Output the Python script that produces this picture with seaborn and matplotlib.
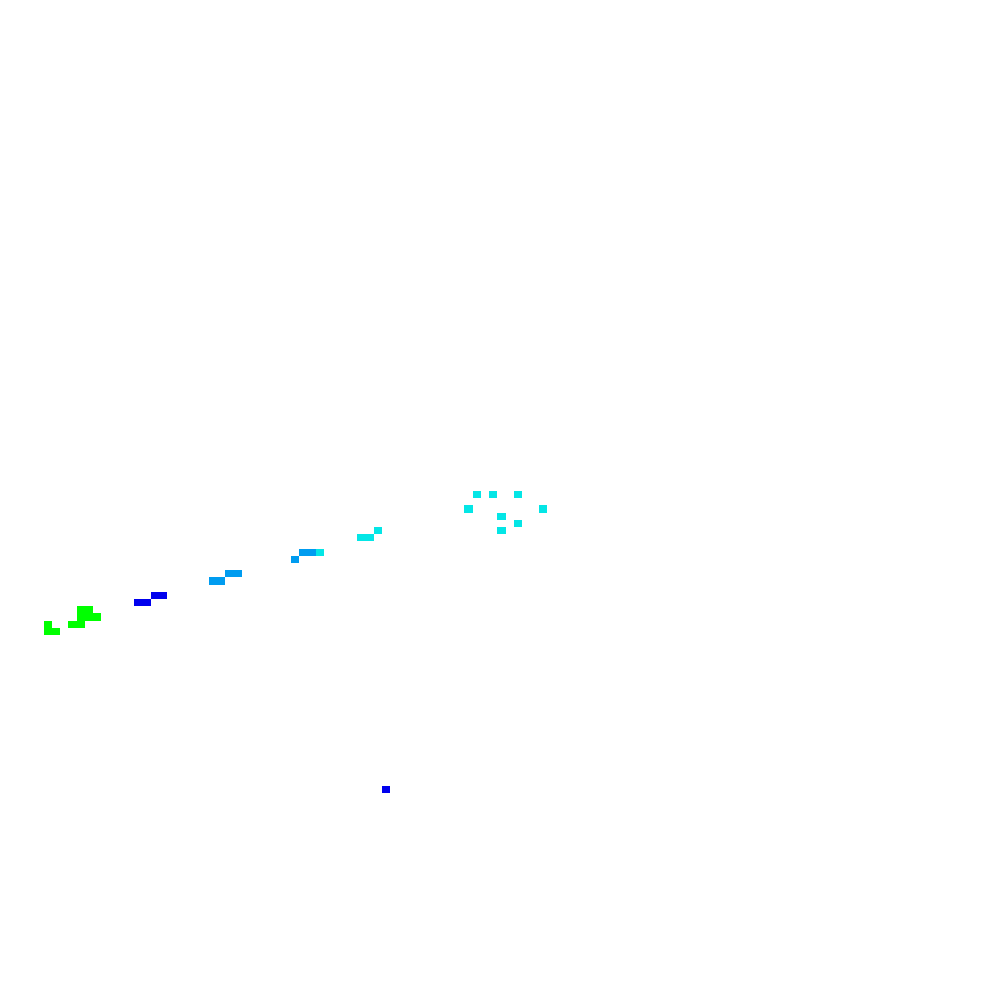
import numpy as np
import pandas as pd
import matplotlib
matplotlib.use("Agg")
import matplotlib.pyplot as plt
from matplotlib.colors import ListedColormap
import seaborn as sns

# Grid size of the heatmap
n_cols = 120
n_rows = 138

# Occupied cells (column index, row index) and their level (0=green, 1=cyan, 2=light blue, 3=blue)
cell_cols = [5, 5, 6, 8, 9, 9, 10, 9, 10, 11,
             16, 17, 18, 19,
             25, 26, 27, 28, 35, 36, 37, 38,
             43, 44, 45,
             57, 59, 62, 56, 65, 60, 62, 60,
             46]
cell_rows = [86, 87, 87, 86, 86, 84, 84, 85, 85, 85,
             83, 83, 82, 82,
             80, 80, 79, 79, 77, 76, 76, 76,
             74, 74, 73,
             68, 68, 68, 70, 70, 71, 72, 73,
             109]
cell_levels = [0, 0, 0, 0, 0, 0, 0, 0, 0, 0,
               3, 3, 3, 3,
               2, 2, 2, 2, 2, 2, 2, 1,
               1, 1, 1,
               1, 1, 1, 1, 1, 1, 1, 1,
               3]

level_colors = ["#00FF00", "#04E6E6", "#009CF0", "#0000EE"]

grid = np.full((n_rows, n_cols), np.nan)
for c, r, v in zip(cell_cols, cell_rows, cell_levels):
    grid[r, c] = v
df = pd.DataFrame(grid)

fig = plt.figure(figsize=(10, 10), dpi=100)
ax = fig.add_axes([0.00225, 0.005, 0.99, 0.9936])
sns.heatmap(df, ax=ax, cmap=ListedColormap(level_colors), vmin=-0.5, vmax=3.5,
            cbar=False, xticklabels=False, yticklabels=False, linewidths=0)
ax.axis("off")
fig.savefig("out.png", dpi=100, facecolor="white")
